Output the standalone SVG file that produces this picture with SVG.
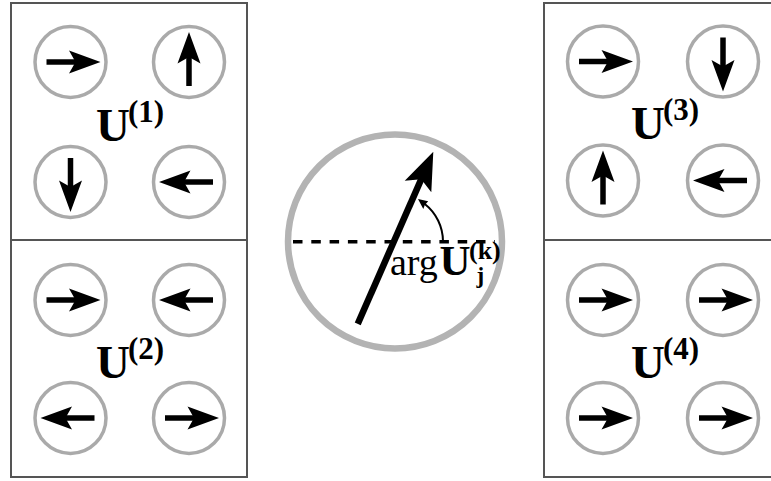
<svg xmlns="http://www.w3.org/2000/svg" xmlns:xlink="http://www.w3.org/1999/xlink" width="771" height="481" viewBox="0 0 771 481">
<style>
.panel{fill:#fff;stroke:#555;stroke-width:2}
.ring{fill:#fff;stroke:#aaa;stroke-width:3.5}
.lbl{font-family:"Liberation Serif","Times New Roman",serif;font-weight:bold;fill:#000}
.sup{font-size:31px}
.big{fill:none;stroke:#b3b3b3;stroke-width:6.5}
</style>
<defs>
<g id="arr">
<line x1="-24" y1="0" x2="8" y2="0" stroke="#000" stroke-width="5.5"/>
<polygon points="30,0 -1.5,-11.5 5,0 -1.5,11.5" fill="#000"/>
</g>
</defs>
<rect width="771" height="481" fill="#fff"/>

<g id="panel-u1">
<rect class="panel" x="11" y="3" width="236" height="237"/>
<circle class="ring" cx="70.5" cy="62" r="35.5"/>
<circle class="ring" cx="189" cy="62" r="35.5"/>
<circle class="ring" cx="70.5" cy="182" r="35.5"/>
<circle class="ring" cx="189" cy="182" r="35.5"/>
<use xlink:href="#arr" transform="translate(70.5,62)"/>
<use xlink:href="#arr" transform="translate(189,62) rotate(-90)"/>
<use xlink:href="#arr" transform="translate(70.5,182) rotate(90)"/>
<use xlink:href="#arr" transform="translate(189,182) rotate(180)"/>
<text class="lbl" x="96" y="140.5" font-size="47">U<tspan class="sup" dx="-2" dy="-19">(1)</tspan></text>
</g>

<g id="panel-u2">
<rect class="panel" x="11" y="240" width="236" height="237"/>
<circle class="ring" cx="70.5" cy="300" r="35.5"/>
<circle class="ring" cx="189" cy="300" r="35.5"/>
<circle class="ring" cx="70.5" cy="418" r="35.5"/>
<circle class="ring" cx="189" cy="418" r="35.5"/>
<use xlink:href="#arr" transform="translate(70.5,300)"/>
<use xlink:href="#arr" transform="translate(189,300) rotate(180)"/>
<use xlink:href="#arr" transform="translate(70.5,418) rotate(180)"/>
<use xlink:href="#arr" transform="translate(189,418)"/>
<text class="lbl" x="96" y="378" font-size="47">U<tspan class="sup" dx="-2" dy="-19">(2)</tspan></text>
</g>

<g id="panel-u3">
<rect class="panel" x="544" y="3" width="240" height="237"/>
<circle class="ring" cx="603" cy="61.5" r="35.5"/>
<circle class="ring" cx="723" cy="61.5" r="35.5"/>
<circle class="ring" cx="603" cy="180.5" r="35.5"/>
<circle class="ring" cx="723" cy="180.5" r="35.5"/>
<use xlink:href="#arr" transform="translate(603,61.5)"/>
<use xlink:href="#arr" transform="translate(723,61.5) rotate(90)"/>
<use xlink:href="#arr" transform="translate(603,180.5) rotate(-90)"/>
<use xlink:href="#arr" transform="translate(723,180.5) rotate(180)"/>
<text class="lbl" x="631" y="138.5" font-size="47">U<tspan class="sup" dx="-2" dy="-19">(3)</tspan></text>
</g>

<g id="panel-u4">
<rect class="panel" x="544" y="240" width="240" height="237"/>
<circle class="ring" cx="603" cy="300" r="35.5"/>
<circle class="ring" cx="723" cy="300" r="35.5"/>
<circle class="ring" cx="603" cy="418" r="35.5"/>
<circle class="ring" cx="723" cy="418" r="35.5"/>
<use xlink:href="#arr" transform="translate(603,300)"/>
<use xlink:href="#arr" transform="translate(723,300)"/>
<use xlink:href="#arr" transform="translate(603,418)"/>
<use xlink:href="#arr" transform="translate(723,418)"/>
<text class="lbl" x="631" y="378" font-size="47">U<tspan class="sup" dx="-2" dy="-19">(4)</tspan></text>
</g>

<g id="phase-circle">
<circle class="big" cx="395" cy="241.5" r="107"/>
<line x1="293" y1="241.7" x2="495" y2="241.7" stroke="#000" stroke-width="3.5" stroke-dasharray="9.5 8.8"/>
<g transform="translate(433.3,151.7) rotate(-66.3)">
<line x1="-188" y1="0" x2="-28" y2="0" stroke="#000" stroke-width="6.5"/>
<polygon points="0,0 -38,-14.5 -30,0 -38,14.5" fill="#000"/>
</g>
<path d="M443,241.5 A48,48 0 0 0 424.5,203.7" fill="none" stroke="#000" stroke-width="2"/>
<polygon points="418,199 428.2,201.2 424.8,205 423.3,209" fill="#000"/>
<text x="390" y="274.5" font-family="'Liberation Serif', 'Times New Roman', serif" font-size="38" fill="#000">arg</text>
<text class="lbl" x="439.5" y="275" font-size="43">U</text>
<text class="lbl" x="469" y="259" font-size="26">(k)</text>
<text class="lbl" x="476.5" y="283" font-size="23">j</text>
</g>
</svg>
